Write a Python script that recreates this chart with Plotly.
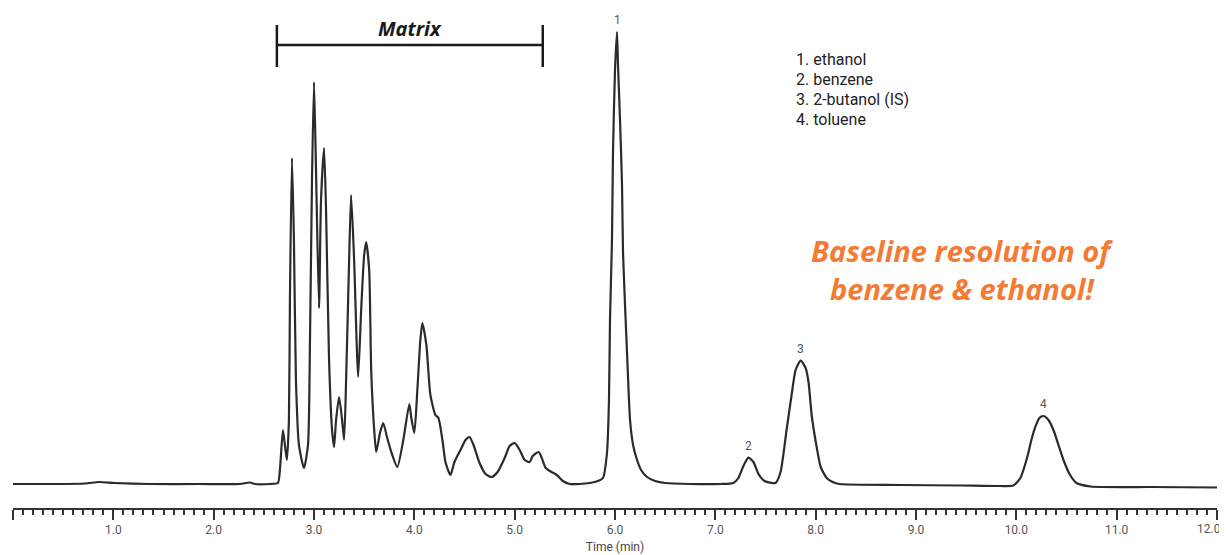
import plotly.graph_objects as go

# Chromatogram trace (time in min, detector signal in arbitrary units)
time_min = [
    0.00, 0.37, 0.72, 0.86, 1.01, 1.36, 1.86, 2.26, 2.36, 2.41, 2.56, 2.64,
    2.66, 2.69, 2.71, 2.73, 2.75, 2.76, 2.78, 2.80, 2.82, 2.85, 2.90,
    2.94, 2.96, 2.98, 3.00, 3.02, 3.05, 3.07, 3.10, 3.12, 3.15, 3.18, 3.20,
    3.22, 3.25, 3.28, 3.30, 3.32, 3.35, 3.37, 3.40, 3.44,
    3.47, 3.50, 3.52, 3.55, 3.57, 3.60, 3.62, 3.66, 3.69, 3.73, 3.77, 3.83,
    3.89, 3.95, 3.97, 4.00, 4.03, 4.06, 4.08, 4.12, 4.16, 4.21, 4.24, 4.28, 4.31, 4.36,
    4.40, 4.47, 4.51, 4.55, 4.59, 4.65, 4.71, 4.77,
    4.83, 4.90, 4.95, 5.00, 5.05, 5.10, 5.15,
    5.18, 5.24, 5.27, 5.31, 5.35, 5.42, 5.48, 5.55,
    5.65, 5.75, 5.83, 5.88,
    5.92, 5.94, 5.95, 5.97, 5.98, 6.00, 6.02, 6.03, 6.05, 6.07, 6.08, 6.12, 6.15,
    6.18, 6.22, 6.26, 6.32, 6.40, 6.50, 6.75, 7.05,
    7.18, 7.23, 7.28, 7.33, 7.38, 7.43, 7.49, 7.60,
    7.65, 7.71, 7.76, 7.80, 7.85, 7.90, 7.93, 7.96, 8.01, 8.05, 8.11, 8.17, 8.24,
    8.84, 9.44, 9.84, 9.97, 10.04, 10.11, 10.15, 10.19, 10.23, 10.27, 10.32,
    10.37, 10.42, 10.47, 10.53, 10.60, 10.74, 11.34, 12.00,
]
signal = [
    6, 6, 6.5, 8, 7, 6, 6, 6, 7.5, 6, 6, 7,
    20, 60, 45, 30, 70, 190, 332, 250, 110, 45, 22,
    45, 150, 310, 408, 320, 182, 290, 342, 280, 130, 60, 43,
    70, 93, 70, 50, 110, 230, 295, 230, 113,
    180, 235, 248, 220, 120, 60, 38, 58, 67, 52, 38, 23,
    50, 86, 72, 57, 100, 150, 167, 145, 95, 75, 72, 50, 28, 15,
    28, 42, 50, 53, 45, 27, 16, 13,
    18, 32, 44, 47, 40, 30, 28,
    34, 38, 32, 22, 19, 15, 9, 6,
    6, 7, 9, 12,
    37, 90, 170, 250, 337, 420, 458, 425, 370, 305, 237, 137, 70,
    45, 30, 20, 13, 9, 7, 6, 6,
    7, 12, 24, 32.3, 28, 16, 9, 7,
    18, 60, 95, 120, 129.3, 122, 107, 75, 43, 23, 12, 8, 6,
    5, 4.5, 4, 4.5, 12, 33.3, 50, 63.3, 72, 74, 70,
    60, 45, 30, 16, 7, 3.5, 3, 2.5,
]

# Numbered peaks
peak_labels = ["1", "2", "3", "4"]
peak_times = [6.02, 7.33, 7.85, 10.27]
peak_heights = [458, 32.3, 129.3, 74]
compounds = ["1. ethanol", "2. benzene", "3. 2-butanol (IS)", "4. toluene"]

# x-axis ticks; the last label sits at the very edge, so it is drawn separately
tick_values = [0, 1, 2, 3, 4, 5, 6, 7, 8, 9, 10, 11, 12]
tick_labels = ["", "1.0", "2.0", "3.0", "4.0", "5.0", "6.0", "7.0", "8.0",
               "9.0", "10.0", "11.0", "12.0"]

callout_lines = ["Baseline resolution of", "benzene &amp; ethanol!"]

matrix_start, matrix_end = 2.63, 5.28

NARROW = "Liberation Sans Narrow, Roboto, sans-serif"
TICK_FONT = dict(family=NARROW, size=12, color="#555555")

fig = go.Figure()
fig.add_trace(go.Scatter(
    x=time_min, y=signal, mode="lines",
    line=dict(color="#2b2b2b", width=2.2, shape="spline", smoothing=0.6),
    hoverinfo="x+y", showlegend=False,
))

# Peak number labels
for lab, t, h in zip(peak_labels, peak_times, peak_heights):
    fig.add_annotation(x=t, y=h, text=lab, showarrow=False, yanchor="bottom",
                       yshift=3, font=dict(family=NARROW, size=12, color="#555555"))

# Compound list
for i, c in enumerate(compounds):
    fig.add_annotation(x=7.78, y=431 - 20 * i, text=c, showarrow=False,
                       xanchor="left", yanchor="middle",
                       font=dict(family=NARROW, size=16, color="#222222"))

# Matrix bracket
bar_y, end_lo, end_hi = 445, 423, 465
fig.add_shape(type="line", x0=matrix_start, x1=matrix_end, y0=bar_y, y1=bar_y,
              line=dict(color="#1a1a1a", width=2.5))
for xe in (matrix_start, matrix_end):
    fig.add_shape(type="line", x0=xe, x1=xe, y0=end_lo, y1=end_hi,
                  line=dict(color="#1a1a1a", width=2.5))
fig.add_annotation(x=(matrix_start + matrix_end) / 2, y=bar_y, text="Matrix",
                   showarrow=False, yanchor="bottom", yshift=1,
                   font=dict(family="Open Sans, sans-serif", size=20, color="#1a1a1a",
                             weight="bold", style="italic"))

# Orange callout
for i, line in enumerate(callout_lines):
    fig.add_annotation(x=9.46, y=240 - 38 * i, text=line,
                       showarrow=False, xanchor="center", yanchor="middle",
                       font=dict(family="Open Sans, sans-serif", size=29, color="#f37b34",
                                 weight="bold", style="italic"))

# Last tick label, kept inside the window edge
fig.add_annotation(x=tick_values[-1], y=0, xref="x", yref="paper",
                   text=tick_labels[-1], showarrow=False,
                   xanchor="right", yanchor="top", xshift=6, yshift=-12,
                   font=TICK_FONT)
shown_labels = tick_labels[:-1] + [""]

fig.update_layout(
    width=1219, height=547,
    margin=dict(l=5, r=10, t=0, b=47),
    paper_bgcolor="white", plot_bgcolor="white",
    xaxis=dict(
        range=[0, 12], tickmode="array", tickvals=tick_values, ticktext=shown_labels,
        ticks="outside", ticklen=10, tickwidth=2, tickcolor="#333333",
        showline=True, linecolor="#333333", linewidth=2, showgrid=False, zeroline=False,
        automargin=False,
        tickfont=TICK_FONT,
        minor=dict(tick0=0, dtick=0.1, ticks="outside", ticklen=5, tickwidth=1.5,
                   tickcolor="#333333", showgrid=False),
        title=dict(text="Time (min)", standoff=6,
                   font=dict(family=NARROW, size=12, color="#444444")),
        fixedrange=True,
    ),
    yaxis=dict(range=[-18, 482], visible=False, fixedrange=True, automargin=False),
)

fig.write_html("out.html")
